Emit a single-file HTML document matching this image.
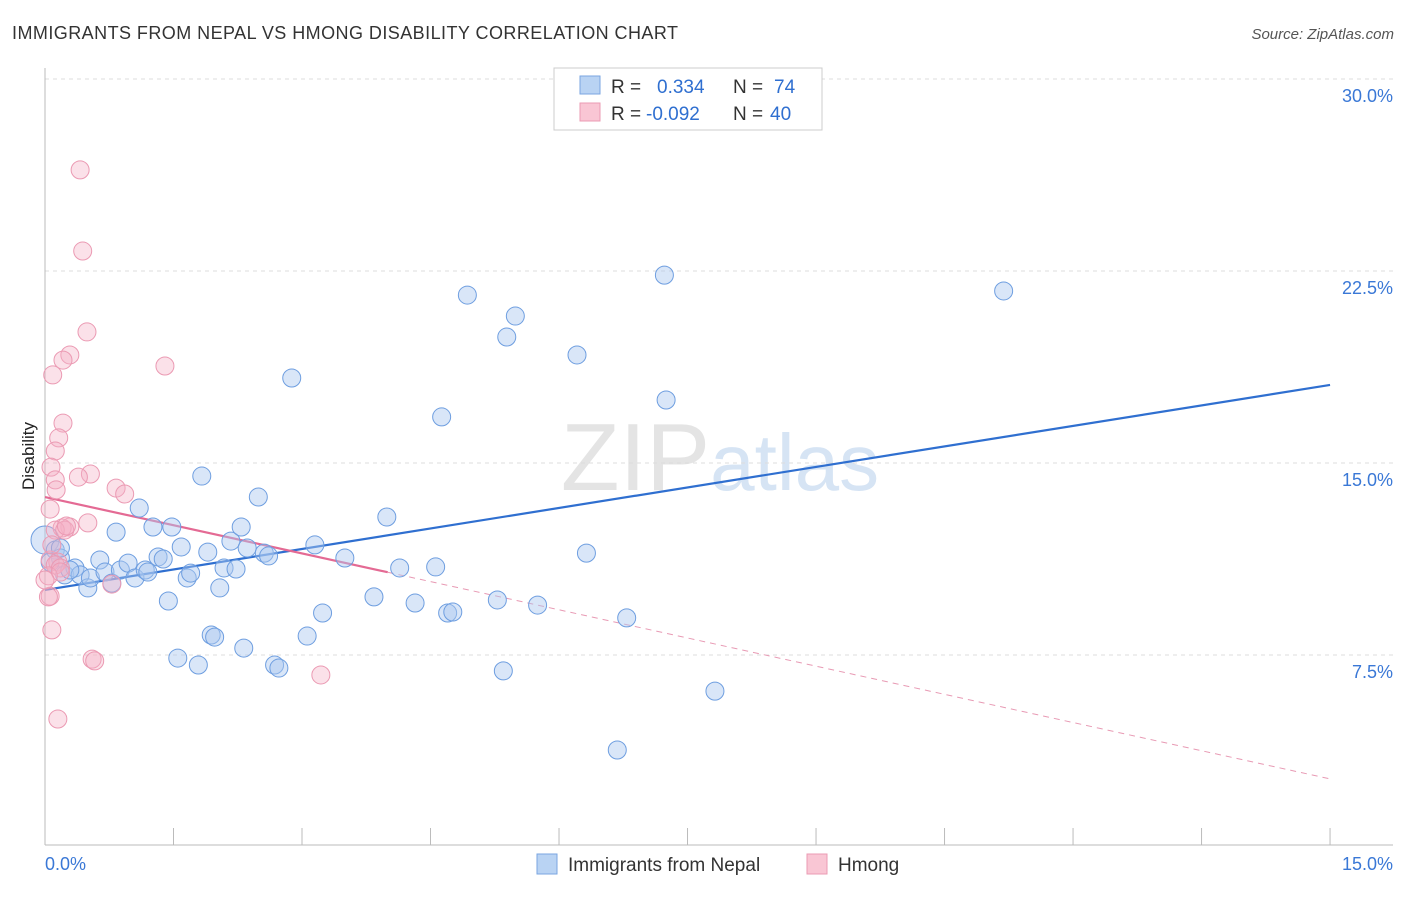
<!DOCTYPE html>
<html><head><meta charset="utf-8"><style>
body{margin:0;background:#fff;font-family:"Liberation Sans",sans-serif}
svg text{font-family:"Liberation Sans",sans-serif}
</style></head><body>
<svg id="chart" width="1406" height="892" viewBox="0 0 1406 892">
<text x="12" y="39" font-size="18" fill="#333" textLength="666" lengthAdjust="spacing">IMMIGRANTS FROM NEPAL VS HMONG DISABILITY CORRELATION CHART</text>
<text x="1394" y="39" font-size="15" fill="#555" font-style="italic" text-anchor="end">Source: ZipAtlas.com</text>
<text x="720" y="490" font-size="96" fill="#e4e4e4" text-anchor="middle" font-family="Liberation Serif">ZIP<tspan fill="#d6e4f4" font-family="Liberation Sans" font-size="80">atlas</tspan></text>
<g id="grid"></g>
<g id="axes"></g>
<text x="34" y="456" font-size="17" fill="#222" transform="rotate(-90 34 456)" text-anchor="middle">Disability</text>
<g id="lines"></g>
<g id="points"></g>
<g>
<rect x="554" y="68" width="268" height="62" fill="#fff" stroke="#ccc"/>
<rect x="580" y="76" width="20" height="18" fill="#b9d3f3" stroke="#7aa6e0"/>
<rect x="580" y="103" width="20" height="18" fill="#f9c6d4" stroke="#eb9bb3"/>
<text x="611" y="93" font-size="19" fill="#333">R = <tspan x="657" fill="#2f6fd0">0.334</tspan><tspan x="733" fill="#333">N = </tspan><tspan x="774" fill="#2f6fd0">74</tspan></text>
<text x="611" y="120" font-size="19" fill="#333">R = <tspan x="646" fill="#2f6fd0">-0.092</tspan><tspan x="733" fill="#333">N = </tspan><tspan x="770" fill="#2f6fd0">40</tspan></text>
</g>
<g>
<rect x="537" y="854" width="20" height="20" fill="#b9d3f3" stroke="#7aa6e0"/>
<text x="568" y="871" font-size="19" fill="#333">Immigrants from Nepal</text>
<rect x="807" y="854" width="20" height="20" fill="#f9c6d4" stroke="#eb9bb3"/>
<text x="838" y="871" font-size="19" fill="#333">Hmong</text>
</g>
</svg>
<script>
const yTicks=[7.5,15,22.5,30];
const yTickLabels=["7.5%","15.0%","22.5%","30.0%"];
const xTickLabels=["0.0%","15.0%"];
const nepalX=[0.00,0.12,0.18,0.06,0.23,0.35,0.41,0.50,0.53,0.64,0.70,0.78,0.83,0.88,0.97,1.05,1.10,1.17,1.20,1.26,1.32,1.38,1.44,1.48,1.55,1.59,1.66,1.70,1.79,1.83,1.90,1.94,1.98,2.04,2.09,2.17,2.23,2.29,2.32,2.36,2.49,2.56,2.61,2.68,2.73,2.88,3.06,3.15,3.24,3.50,3.84,3.99,4.14,4.32,4.56,4.63,4.70,4.76,4.93,5.28,5.35,5.39,5.49,5.75,6.21,6.32,6.68,6.79,7.23,7.25,7.82,11.19,0.18,0.29];
const nepalY=[11.99,11.60,11.29,11.13,10.63,10.90,10.63,10.12,10.51,11.21,10.74,10.31,12.30,10.82,11.09,10.51,13.24,10.82,10.74,12.50,11.33,11.25,9.61,12.50,7.38,11.72,10.51,10.70,7.11,14.49,11.52,8.28,8.20,10.12,10.90,11.95,10.86,12.50,7.77,11.68,13.67,11.48,11.37,7.11,6.99,18.32,8.24,11.80,9.14,11.29,9.77,12.89,10.90,9.53,10.94,16.80,9.14,9.18,21.56,9.65,6.88,19.92,20.74,9.45,19.22,11.48,3.79,8.95,22.34,17.46,6.09,21.72,11.68,10.82];
const hmongX=[0.41,0.44,0.49,0.29,0.21,1.40,0.09,0.21,0.16,0.12,0.07,0.53,0.39,0.12,0.13,0.83,0.93,0.06,0.50,0.29,0.20,0.12,0.23,0.06,0.15,0.12,0.18,0.04,0.78,0.06,0.04,0.08,0.55,0.58,3.22,0.15,0.08,0.18,0.00,0.25];
const hmongY=[26.45,23.28,20.12,19.22,19.02,18.79,18.44,16.56,15.98,15.47,14.84,14.57,14.45,14.34,13.95,14.02,13.79,13.20,12.66,12.50,12.46,12.38,12.38,11.21,11.13,11.02,10.90,10.59,10.27,9.80,9.77,8.48,7.34,7.27,6.72,5.00,11.80,10.74,10.43,12.54];
const nepalTrend=[10.04,18.05];
const hmongTrend=[13.67,2.66];
const hmongSolidEnd=4.0;

const NS="http://www.w3.org/2000/svg";
function X(v){return 45+v*85.67;}
function Y(v){return 847-v*25.6;}
function mk(tag,attrs,parent){const e=document.createElementNS(NS,tag);for(const k in attrs)e.setAttribute(k,attrs[k]);parent.appendChild(e);return e;}
const grid=document.getElementById('grid'),axes=document.getElementById('axes'),lines=document.getElementById('lines'),pts=document.getElementById('points');
yTicks.forEach((t,i)=>{
 const l=mk('line',{x1:45,x2:1393,y1:Y(t),y2:Y(t),stroke:'#ddd','stroke-dasharray':'4,4'},grid);
 
 
 const tx=mk('text',{x:1393,y:Y(t)+23,'font-size':18,fill:'#3a78d6','text-anchor':'end'},axes);
 tx.textContent=yTickLabels[i];
 
 
});
const ax=mk('line',{x1:45,x2:1393,y1:845,y2:845,stroke:'#bbb'},axes);


const ay=mk('line',{x1:45,x2:45,y1:68,y2:845,stroke:'#bbb'},axes);


for(let i=0;i<=10;i++){
 const t=mk('line',{x1:X(i*1.5),x2:X(i*1.5),y1:828,y2:845,stroke:'#bbb'},axes);
 
 
}
const xl0=mk('text',{x:45,y:870,'font-size':18,fill:'#3a78d6'},axes);xl0.textContent=xTickLabels[0];


const xl1=mk('text',{x:1393,y:870,'font-size':18,fill:'#3a78d6','text-anchor':'end'},axes);xl1.textContent=xTickLabels[1];



nepalX.forEach((x,i)=>{
 const c=mk('circle',{cx:X(x),cy:Y(nepalY[i]),r:i===0?14:9,fill:'rgba(170,200,240,0.45)',stroke:'#6e9ee0','stroke-width':1},pts);
 
 
});
hmongX.forEach((x,i)=>{
 const c=mk('circle',{cx:X(x),cy:Y(hmongY[i]),r:9,fill:'rgba(245,175,198,0.38)',stroke:'#eb9ab3','stroke-width':1},pts);
 
 
});
function hy(x){return hmongTrend[0]+(hmongTrend[1]-hmongTrend[0])*x/15;}
const bl=mk('line',{x1:X(0),y1:Y(nepalTrend[0]),x2:X(15),y2:Y(nepalTrend[1]),stroke:'#2f6fd0','stroke-width':2.2},lines);


const pl=mk('line',{x1:X(0),y1:Y(hy(0)),x2:X(hmongSolidEnd),y2:Y(hy(hmongSolidEnd)),stroke:'#e46a94','stroke-width':2.2},lines);


const pd=mk('line',{x1:X(hmongSolidEnd),y1:Y(hy(hmongSolidEnd)),x2:X(15),y2:Y(hy(15)),stroke:'#e89ab4','stroke-width':1,'stroke-dasharray':'6,5'},lines);


</script>
</body></html>
